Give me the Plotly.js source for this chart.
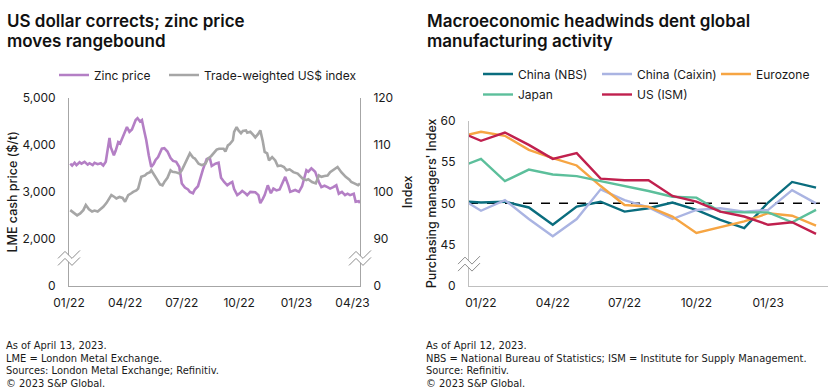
<!DOCTYPE html>
<html>
<head>
<meta charset="utf-8">
<script src="https://cdn.plot.ly/plotly-3.0.1.min.js"></script>
<style>html,body{margin:0;padding:0;background:#fff;}#chart{width:840px;height:389px;}</style>
</head>
<body>
<div id="chart"></div>
<script>
// ---- Left chart data: LME zinc cash price ($/t) and trade-weighted US$ index ----
const zincDates = ['2022-01-03','2022-01-06','2022-01-10','2022-01-13','2022-01-18','2022-01-21','2022-01-26','2022-01-31','2022-02-03','2022-02-08','2022-02-11','2022-02-16','2022-02-21','2022-02-25','2022-03-01','2022-03-04','2022-03-07','2022-03-09','2022-03-14','2022-03-17','2022-03-21','2022-03-24','2022-03-29','2022-04-04','2022-04-08','2022-04-12','2022-04-18','2022-04-21','2022-04-25','2022-04-28','2022-05-02','2022-05-05','2022-05-09','2022-05-13','2022-05-17','2022-05-20','2022-05-24','2022-05-30','2022-06-03','2022-06-08','2022-06-13','2022-06-17','2022-06-22','2022-06-27','2022-07-01','2022-07-06','2022-07-11','2022-07-14','2022-07-19','2022-07-22','2022-07-27','2022-08-01','2022-08-04','2022-08-10','2022-08-15','2022-08-18','2022-08-24','2022-08-29','2022-09-02','2022-09-07','2022-09-12','2022-09-16','2022-09-20','2022-09-23','2022-09-28','2022-10-03','2022-10-06','2022-10-11','2022-10-14','2022-10-19','2022-10-24','2022-10-27','2022-11-01','2022-11-04','2022-11-08','2022-11-11','2022-11-16','2022-11-21','2022-11-25','2022-11-30','2022-12-05','2022-12-09','2022-12-14','2022-12-19','2022-12-22','2022-12-30','2023-01-05','2023-01-10','2023-01-13','2023-01-17','2023-01-20','2023-01-25','2023-01-31','2023-02-03','2023-02-06','2023-02-10','2023-02-15','2023-02-20','2023-02-24','2023-03-01','2023-03-06','2023-03-10','2023-03-15','2023-03-20','2023-03-24','2023-03-28','2023-04-03','2023-04-06','2023-04-11','2023-04-13'];
const zincPrice = [3600,3560,3620,3570,3630,3600,3640,3580,3610,3570,3620,3590,3610,3560,3640,3900,4150,3950,3780,3880,4060,4030,4200,4380,4280,4330,4530,4570,4500,4530,4280,4100,3780,3530,3600,3680,3740,3920,3930,3860,3720,3660,3640,3530,3180,3090,3050,3000,2970,3050,3120,3380,3480,3700,3720,3550,3600,3620,3300,3210,3140,3180,3210,3060,2930,2980,3020,2970,2930,3000,3000,2990,2930,2760,2850,2930,3140,2970,3070,3030,3050,3180,3320,3140,3000,3040,3000,3120,3250,3460,3430,3500,3430,3300,3210,3100,3130,3100,3070,3100,3140,2960,3000,2930,2960,2930,2960,2790,2800,2760];

const usdDates = ['2022-01-03','2022-01-06','2022-01-10','2022-01-14','2022-01-19','2022-01-24','2022-01-28','2022-02-02','2022-02-07','2022-02-11','2022-02-16','2022-02-22','2022-02-25','2022-03-02','2022-03-07','2022-03-10','2022-03-15','2022-03-18','2022-03-23','2022-03-28','2022-04-01','2022-04-06','2022-04-11','2022-04-14','2022-04-19','2022-04-22','2022-04-27','2022-05-03','2022-05-06','2022-05-11','2022-05-13','2022-05-18','2022-05-23','2022-05-27','2022-05-31','2022-06-03','2022-06-08','2022-06-13','2022-06-16','2022-06-21','2022-06-27','2022-07-01','2022-07-06','2022-07-11','2022-07-14','2022-07-19','2022-07-22','2022-07-28','2022-08-02','2022-08-08','2022-08-12','2022-08-17','2022-08-22','2022-08-26','2022-08-30','2022-09-06','2022-09-09','2022-09-13','2022-09-16','2022-09-21','2022-09-23','2022-09-27','2022-09-30','2022-10-04','2022-10-07','2022-10-12','2022-10-14','2022-10-19','2022-10-24','2022-10-27','2022-11-01','2022-11-04','2022-11-08','2022-11-11','2022-11-15','2022-11-18','2022-11-23','2022-11-28','2022-12-02','2022-12-07','2022-12-12','2022-12-16','2022-12-21','2022-12-27','2023-01-03','2023-01-06','2023-01-11','2023-01-17','2023-01-20','2023-01-26','2023-02-01','2023-02-06','2023-02-10','2023-02-15','2023-02-20','2023-02-24','2023-02-28','2023-03-03','2023-03-08','2023-03-14','2023-03-17','2023-03-21','2023-03-27','2023-03-30','2023-04-04','2023-04-10','2023-04-13'];
const usdIndex = [96.1,95.8,95.5,95.0,95.4,96.1,97.2,96.3,95.8,96.0,95.8,96.5,96.8,97.6,98.5,99.3,98.9,98.6,98.9,98.7,97.9,99.3,99.7,100.0,100.3,100.7,103.2,103.5,103.9,104.2,104.6,103.4,102.5,101.6,101.4,102.1,103.0,104.6,104.3,104.2,103.9,104.6,106.0,107.4,108.2,107.3,107.1,106.0,105.7,106.0,107.1,107.6,108.5,109.0,109.2,109.2,108.6,109.9,110.2,111.0,112.8,113.8,113.1,112.5,113.0,113.1,112.6,112.8,112.1,111.6,112.4,113.1,110.8,108.5,108.2,106.7,107.4,106.7,105.5,105.6,105.3,104.6,104.8,104.2,103.9,103.5,102.8,102.5,102.7,102.1,101.8,103.5,103.2,103.4,103.5,104.2,104.6,104.9,105.3,104.2,103.7,103.2,102.6,102.1,101.8,101.4,101.8];

const leftXTicks = ['2022-01-01','2022-04-01','2022-07-01','2022-10-01','2023-01-01','2023-04-01'];
const leftYTickVals = [1000,2000,3000,4000,5000];
const leftYTickText = ['0','2,000','3,000','4,000','5,000'];
const rightYTickVals = [80,90,100,110,120];
const rightYTickText = ['0','90','100','110','120'];

// ---- Right chart data: manufacturing PMIs ----
const pmiMonths = ['12/21','01/22','02/22','03/22','04/22','05/22','06/22','07/22','08/22','09/22','10/22','11/22','12/22','01/23','02/23','03/23'];
const chinaNBS   = [50.3,50.1,50.2,49.5,47.4,49.6,50.2,49.0,49.4,50.1,49.2,48.0,47.0,50.1,52.6,51.9];
const chinaCaixin= [50.9,49.1,50.4,48.1,46.0,48.1,51.7,50.4,49.5,48.1,49.2,49.4,49.0,49.2,51.6,50.0];
const eurozone   = [58.0,58.7,58.2,56.5,55.5,54.6,52.1,49.8,49.6,48.4,46.4,47.1,47.8,48.8,48.5,47.3];
const japan      = [54.3,55.4,52.7,54.1,53.5,53.3,52.7,52.1,51.5,50.8,50.7,49.0,48.9,48.9,47.7,49.2];
const usISM      = [58.8,57.6,58.6,57.1,55.4,56.1,53.0,52.8,52.8,50.9,50.2,49.0,48.4,47.4,47.7,46.3];
const pmiTicks = ['01/22','04/22','07/22','10/22','01/23'];
const pmiYTickVals = [40,45,50,55,60];
const pmiYTickText = ['0','45','50','55','60'];

const W = 840, H = 389;
const px = v => v / W;
const py = v => 1 - v / H;

const FONT = 'Inter, Roboto, "Liberation Sans", Arial, sans-serif';
const NARROW = '"Liberation Sans Narrow", "Arial Narrow", "DejaVu Sans Condensed", sans-serif';
const TXT = '#1a1a1a';
const tickFont = {family: FONT, size: 12, color: TXT};
const titleFont = {family: FONT, size: 12.5, color: TXT, weight: 500};

const traces = [
  {x: zincDates, y: zincPrice, name: 'Zinc price', type: 'scatter', mode: 'lines',
   line: {color: '#b47fc5', width: 2.6}, xaxis: 'x', yaxis: 'y', legend: 'legend'},
  {x: usdDates, y: usdIndex, name: 'Trade-weighted US$ index', type: 'scatter', mode: 'lines',
   line: {color: '#a6a6a6', width: 2.6}, xaxis: 'x', yaxis: 'y2', legend: 'legend', legendwidth: 165},
  {x: pmiMonths, y: chinaNBS, name: 'China (NBS)', type: 'scatter', mode: 'lines',
   line: {color: '#0a6d7e', width: 2.4}, xaxis: 'x2', yaxis: 'y3', legend: 'legend2'},
  {x: pmiMonths, y: chinaCaixin, name: 'China (Caixin)', type: 'scatter', mode: 'lines',
   line: {color: '#aab4e2', width: 2.4}, xaxis: 'x2', yaxis: 'y3', legend: 'legend2'},
  {x: pmiMonths, y: eurozone, name: 'Eurozone', type: 'scatter', mode: 'lines',
   line: {color: '#f6a543', width: 2.4}, xaxis: 'x2', yaxis: 'y3', legend: 'legend2', legendwidth: 62},
  {x: pmiMonths, y: japan, name: 'Japan', type: 'scatter', mode: 'lines',
   line: {color: '#5cbf9b', width: 2.4}, xaxis: 'x2', yaxis: 'y3', legend: 'legend3'},
  {x: pmiMonths, y: usISM, name: 'US (ISM)', type: 'scatter', mode: 'lines',
   line: {color: '#c0204e', width: 2.4}, xaxis: 'x2', yaxis: 'y3', legend: 'legend3', legendwidth: 62}
];

function breakShapes(xref, xanchor, yref, yanchor, color) {
  const common = {xref: xref, yref: yref, xsizemode: 'pixel', ysizemode: 'pixel',
                  xanchor: xanchor, yanchor: yanchor, layer: 'above'};
  return [
    Object.assign({}, common, {type: 'path',
      path: 'M-11,1 L-4,8 L3,1 L11,9 L11,2 L3,-6 L-4,1 L-11,-6 Z',
      fillcolor: '#ffffff', line: {width: 0}}),
    Object.assign({}, common, {type: 'path', path: 'M-11,1 L-4,8 L3,1 L11,9',
      line: {color: color, width: 1}}),
    Object.assign({}, common, {type: 'path', path: 'M-11,-6 L-4,1 L3,-6 L11,2',
      line: {color: color, width: 1}})
  ];
}

const legendBase = {orientation: 'h', xanchor: 'left', yanchor: 'middle',
  font: {family: FONT, size: 12, color: TXT}, bgcolor: 'rgba(0,0,0,0)',
  itemwidth: 30, tracegroupgap: 0, entrywidthmode: 'pixels'};

const footLeft = ['As of April 13, 2023.', 'LME = London Metal Exchange.', 'Sources: London Metal Exchange; Refinitiv.', '\u00a9 2023 S&P Global.'];
const footRight = ['As of April 12, 2023.', 'NBS = National Bureau of Statistics; ISM = Institute for Supply Management.', 'Source: Refinitiv.', '\u00a9 2023 S&P Global.'];
const footY = [345.5, 358, 370.5, 383];

const annotations = [];
const titleStyle = {family: FONT, size: 17, color: '#111', weight: 600};
[['US dollar corrects; zinc price', 5, 21], ['moves rangebound', 5, 41],
 ['Macroeconomic headwinds dent global', 425, 21], ['manufacturing activity', 425, 41]].forEach(t => {
  annotations.push({text: t[0], xref: 'paper', yref: 'paper', x: px(t[1]), y: py(t[2]),
    xanchor: 'left', yanchor: 'middle', showarrow: false, font: titleStyle});
});
const footFont = {family: NARROW, size: 11, color: TXT};
footLeft.forEach((t, i) => annotations.push({text: t, xref: 'paper', yref: 'paper', x: px(4), y: py(footY[i]),
  xanchor: 'left', yanchor: 'middle', showarrow: false, font: footFont}));
footRight.forEach((t, i) => annotations.push({text: t, xref: 'paper', yref: 'paper', x: px(424), y: py(footY[i]),
  xanchor: 'left', yanchor: 'middle', showarrow: false, font: footFont}));

const shapes = [
  {type: 'line', xref: 'x2 domain', x0: 0, x1: 1, yref: 'y3', y0: 50, y1: 50,
   line: {color: '#000', width: 1.5, dash: 'dash'}, layer: 'below'}
].concat(
  breakShapes('x domain', 0, 'y', 1560, '#8c8c8c'),
  breakShapes('x domain', 1, 'y', 1560, '#8c8c8c'),
  breakShapes('x2 domain', 0, 'y3', 42.5, '#8c8c8c')
);

const layout = {
  width: W, height: H,
  margin: {l: 0, r: 0, t: 0, b: 0, autoexpand: false},
  paper_bgcolor: '#fff', plot_bgcolor: 'rgba(0,0,0,0)',
  font: {family: FONT, color: TXT},
  xaxis: {domain: [px(69), px(360)], anchor: 'y', type: 'date', automargin: false,
    range: ['2022-01-01', '2023-04-13'], tickvals: leftXTicks, tickformat: '%m/%y',
    showline: true, linecolor: '#a6a6a6', linewidth: 1, showgrid: false, zeroline: false,
    ticks: '', tickfont: tickFont, ticklabelstandoff: 6, fixedrange: true},
  yaxis: {domain: [py(285.7), py(98)], anchor: 'x', range: [1000, 5000], automargin: false,
    tickvals: leftYTickVals, ticktext: leftYTickText, showline: true, linecolor: '#a6a6a6',
    linewidth: 1, showgrid: false, zeroline: false, ticks: '', tickfont: tickFont,
    ticklabelstandoff: 10,
    title: {text: 'LME cash price ($/t)', font: titleFont, standoff: 1}},
  yaxis2: {overlaying: 'y', side: 'right', anchor: 'x', range: [80, 120], automargin: false,
    tickvals: rightYTickVals, ticktext: rightYTickText, showline: true, linecolor: '#a6a6a6',
    linewidth: 1, showgrid: false, zeroline: false, ticks: '', tickfont: tickFont,
    ticklabelstandoff: 10,
    title: {text: 'Index', font: titleFont, standoff: 10}},
  xaxis2: {domain: [px(469), px(828)], anchor: 'y3', type: 'category', automargin: false,
    range: [0.5, 15.5], tickvals: pmiTicks, ticktext: pmiTicks,
    showline: true, linecolor: '#bfbfbf', linewidth: 1, showgrid: false, zeroline: false,
    ticks: '', tickfont: tickFont, ticklabelstandoff: 6},
  yaxis3: {domain: [py(285.7), py(121)], anchor: 'x2', range: [40, 60], automargin: false,
    tickvals: pmiYTickVals, ticktext: pmiYTickText, showline: true, linecolor: '#bfbfbf',
    linewidth: 1, showgrid: false, zeroline: false, ticks: '', tickfont: tickFont,
    ticklabelstandoff: 10,
    title: {text: "Purchasing managers' Index", font: titleFont, standoff: 1}},
  legend: Object.assign({}, legendBase, {x: px(54), y: py(75), entrywidth: 65}),
  legend2: Object.assign({}, legendBase, {x: px(478), y: py(74), entrywidth: 74}),
  legend3: Object.assign({}, legendBase, {x: px(478), y: py(94.5), entrywidth: 74}),
  showlegend: true,
  annotations: annotations,
  shapes: shapes
};

Plotly.newPlot('chart', traces, layout, {displayModeBar: false, staticPlot: true});
</script>
</body>
</html>
